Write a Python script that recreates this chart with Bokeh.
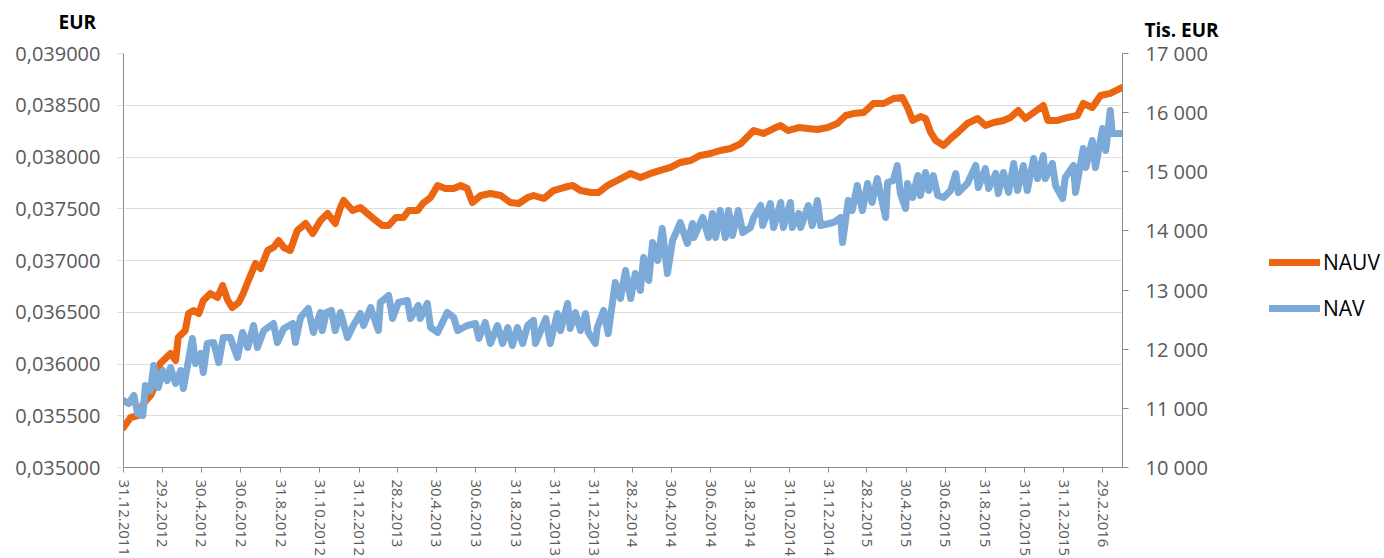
import pandas as pd
from bokeh.plotting import figure
from bokeh.layouts import row
from bokeh.models import (Range1d, LinearAxis, FixedTicker, CustomJSTickFormatter,
                          Label, Legend, LegendItem)
from bokeh.embed import file_html
from bokeh.resources import INLINE

# ---------------- data ----------------
start_date = "31.12.2011"          # day 0 of the day offsets below
end_date = "31.3.2016"

series_names = ["NAUV", "NAV"]

# NAUV (EUR, left axis): day offset from start_date, value
nauv_day = [0, 11, 23, 31, 42, 53, 57, 65, 73, 81, 85, 96, 101, 109, 117, 124, 135, 146, 154, 162,
            169, 179, 186, 194, 205, 213, 224, 233, 241, 249, 259, 270, 283, 294, 306, 317, 329, 337,
            342, 356, 368, 379, 392, 402, 412, 423, 435, 443, 457, 465, 477, 488, 500, 513, 524, 534,
            542, 555, 570, 586, 601, 614, 628, 637, 653, 668, 684, 698, 710, 726, 738, 752, 767, 788,
            803, 819, 834, 850, 865, 881, 896, 912, 927, 943, 959, 979, 994, 1010, 1021, 1032, 1049,
            1063, 1078, 1094, 1109, 1122, 1134, 1150, 1165, 1181, 1196, 1210, 1218, 1226, 1238, 1246,
            1254, 1262, 1274, 1285, 1296, 1311, 1327, 1339, 1352, 1367, 1378, 1390, 1401, 1414, 1429,
            1436, 1451, 1467, 1482, 1491, 1505, 1518, 1533, 1552]
nauv_val = [0.035386, 0.035483, 0.035502, 0.035618, 0.035696, 0.035841, 0.036005, 0.036053, 0.036101,
            0.036034, 0.036256, 0.036324, 0.036488, 0.036517, 0.036488, 0.036614, 0.036681, 0.036643,
            0.036758, 0.036614, 0.036546, 0.036594, 0.036681, 0.036807, 0.036971, 0.036923, 0.037097,
            0.037126, 0.037193, 0.037126, 0.037097, 0.037290, 0.037358, 0.037261, 0.037387, 0.037454,
            0.037358, 0.037512, 0.037580, 0.037483, 0.037512, 0.037454, 0.037387, 0.037338, 0.037338,
            0.037416, 0.037416, 0.037483, 0.037483, 0.037551, 0.037609, 0.037725, 0.037696, 0.037696,
            0.037725, 0.037696, 0.037560, 0.037628, 0.037647, 0.037628, 0.037560, 0.037551, 0.037609,
            0.037628, 0.037599, 0.037676, 0.037705, 0.037725, 0.037676, 0.037657, 0.037657, 0.037725,
            0.037773, 0.037841, 0.037802, 0.037841, 0.037870, 0.037899, 0.037947, 0.037966, 0.038015,
            0.038034, 0.038063, 0.038082, 0.038130, 0.038256, 0.038227, 0.038275, 0.038304, 0.038256,
            0.038285, 0.038275, 0.038266, 0.038285, 0.038324, 0.038401, 0.038420, 0.038430, 0.038517,
            0.038517, 0.038565, 0.038575, 0.038478, 0.038353, 0.038391, 0.038372, 0.038237, 0.038159,
            0.038111, 0.038179, 0.038237, 0.038324, 0.038372, 0.038304, 0.038333, 0.038353, 0.038382,
            0.038449, 0.038372, 0.038430, 0.038498, 0.038353, 0.038353, 0.038382, 0.038401, 0.038517,
            0.038478, 0.038594, 0.038614, 0.038672]

# NAV (Tis. EUR, right axis)
nav_day = [0, 8, 16, 22, 30, 34, 42, 47, 54, 61, 68, 73, 81, 89, 93, 99, 107, 112, 120, 124, 130, 140,
           148, 155, 166, 177, 185, 193, 202, 208, 218, 233, 239, 249, 263, 267, 275, 287, 295, 306,
           309, 315, 323, 329, 337, 348, 357, 368, 373, 384, 396, 399, 412, 418, 427, 441, 446, 458,
           461, 472, 477, 488, 503, 513, 519, 534, 547, 552, 562, 570, 581, 589, 597, 604, 612, 620,
           628, 637, 640, 656, 663, 674, 679, 690, 694, 702, 710, 718, 722, 733, 736, 746, 753, 764,
           772, 780, 788, 795, 803, 808, 816, 822, 830, 837, 845, 853, 865, 876, 884, 886, 900, 909,
           915, 920, 927, 935, 940, 946, 955, 962, 974, 979, 990, 993, 1005, 1010, 1021, 1025, 1036,
           1039, 1049, 1052, 1064, 1070, 1078, 1083, 1103, 1114, 1117, 1126, 1132, 1140, 1148, 1156,
           1163, 1171, 1184, 1187, 1196, 1202, 1207, 1215, 1218, 1226, 1234, 1238, 1246, 1251, 1258,
           1265, 1274, 1285, 1293, 1297, 1311, 1324, 1328, 1339, 1344, 1355, 1359, 1367, 1375, 1383,
           1389, 1398, 1404, 1414, 1420, 1429, 1432, 1443, 1448, 1459, 1463, 1476, 1479, 1491, 1495,
           1505, 1510, 1521, 1526, 1533, 1536, 1552]
nav_val = [11133, 11082, 11217, 10913, 10879, 11386, 11302, 11725, 11353, 11640, 11471, 11691, 11420,
           11640, 11336, 11691, 12181, 11758, 11928, 11606, 12097, 12114, 11775, 12198, 12198, 11860,
           12283, 12029, 12401, 12029, 12316, 12435, 12114, 12350, 12435, 12114, 12536, 12688, 12283,
           12621, 12316, 12621, 12655, 12316, 12621, 12198, 12401, 12604, 12401, 12705, 12316, 12790,
           12908, 12519, 12790, 12824, 12519, 12739, 12519, 12773, 12367, 12283, 12621, 12536, 12316,
           12401, 12435, 12181, 12452, 12097, 12401, 12097, 12367, 12063, 12367, 12097, 12401, 12486,
           12097, 12519, 12097, 12604, 12316, 12773, 12350, 12621, 12316, 12604, 12283, 12097, 12367,
           12655, 12266, 13128, 12857, 13331, 12857, 13280, 12993, 13551, 13162, 13804, 13500, 14041,
           13280, 13838, 14142, 13787, 14126, 13889, 14227, 13889, 14295, 13889, 14345, 13889, 14345,
           13923, 14345, 13973, 14058, 14227, 14430, 14092, 14464, 14058, 14481, 14058, 14481, 14058,
           14295, 14058, 14430, 14092, 14514, 14092, 14142, 14227, 13804, 14514, 14345, 14768, 14345,
           14802, 14481, 14886, 14227, 14819, 14853, 15106, 14633, 14379, 14802, 14565, 14937, 14599,
           14988, 14684, 14937, 14599, 14565, 14684, 14971, 14650, 14802, 15106, 14734, 15055, 14717,
           14971, 14633, 14988, 14650, 15140, 14684, 15106, 14684, 15225, 14886, 15275, 14886, 15140,
           14768, 14548, 14903, 15106, 14650, 15394, 15072, 15529, 15072, 15732, 15360, 16036, 15647,
           15647]

x_tick_labels = ["31.12.2011", "29.2.2012", "30.4.2012", "30.6.2012", "31.8.2012", "31.10.2012",
                 "31.12.2012", "28.2.2013", "30.4.2013", "30.6.2013", "31.8.2013", "31.10.2013",
                 "31.12.2013", "28.2.2014", "30.4.2014", "30.6.2014", "31.8.2014", "31.10.2014",
                 "31.12.2014", "28.2.2015", "30.4.2015", "30.6.2015", "31.8.2015", "31.10.2015",
                 "31.12.2015", "29.2.2016"]

left_ticks = [0.035, 0.0355, 0.036, 0.0365, 0.037, 0.0375, 0.038, 0.0385, 0.039]
left_tick_labels = ["0,035000", "0,035500", "0,036000", "0,036500", "0,037000", "0,037500",
                    "0,038000", "0,038500", "0,039000"]
right_ticks = [10000, 11000, 12000, 13000, 14000, 15000, 16000, 17000]
right_tick_labels = ["10 000", "11 000", "12 000", "13 000", "14 000", "15 000", "16 000", "17 000"]

left_title = "EUR"
right_title = "Tis. EUR"

# ---------------- helpers ----------------
t0 = pd.to_datetime(start_date, format="%d.%m.%Y")
x_ticks = [int((pd.to_datetime(s, format="%d.%m.%Y") - t0).days) for s in x_tick_labels]
x_end = int((pd.to_datetime(end_date, format="%d.%m.%Y") - t0).days)

lookup_code = """
let best = 0, bd = 1e300;
for (let k = 0; k < t.length; k++) { const d = Math.abs(t[k] - tick); if (d < bd) { bd = d; best = k; } }
return l[best];
"""

ORANGE = "#EC6611"
BLUE = "#7BA9D8"
GRID = "#DDDDDD"
AXIS = "#8C8C8C"
TXT = "#595959"
FONT = "Open Sans"
LW = 7

p = figure(frame_width=999, frame_height=414, output_backend="svg", toolbar_location=None,
           x_range=Range1d(0, x_end), y_range=Range1d(left_ticks[0], left_ticks[-1]),
           min_border_left=123, min_border_right=118, min_border_top=53, min_border_bottom=91)
p.outline_line_color = None
p.background_fill_color = "white"
p.extra_y_ranges = {"nav": Range1d(right_ticks[0], right_ticks[-1])}

# grid
p.xgrid.visible = False
p.ygrid.grid_line_color = GRID
p.ygrid.grid_line_width = 1

# left axis
la = p.yaxis[0]
la.ticker = FixedTicker(ticks=left_ticks)
la.formatter = CustomJSTickFormatter(args=dict(t=left_ticks, l=left_tick_labels), code=lookup_code)
la.axis_line_color = AXIS
la.major_tick_line_color = GRID
la.major_tick_out = 6
la.major_tick_in = 0
la.minor_tick_line_color = None
la.major_label_standoff = 17
la.major_label_text_font = FONT
la.major_label_text_font_size = "20px"
la.major_label_text_color = TXT

# bottom axis
ba = p.xaxis[0]
ba.ticker = FixedTicker(ticks=x_ticks)
ba.formatter = CustomJSTickFormatter(args=dict(t=x_ticks, l=x_tick_labels), code=lookup_code)
ba.axis_line_color = AXIS
ba.major_tick_line_color = AXIS
ba.major_tick_out = 5
ba.major_tick_in = 0
ba.minor_tick_line_color = None
ba.major_label_orientation = "vertical"
ba.major_label_standoff = 7
ba.major_label_text_font = FONT
ba.major_label_text_font_size = "15px"
ba.major_label_text_color = TXT

# right axis
ra = LinearAxis(y_range_name="nav")
ra.ticker = FixedTicker(ticks=right_ticks)
ra.formatter = CustomJSTickFormatter(args=dict(t=right_ticks, l=right_tick_labels), code=lookup_code)
ra.axis_line_color = AXIS
ra.major_tick_line_color = AXIS
ra.major_tick_out = 6
ra.major_tick_in = 0
ra.minor_tick_line_color = None
ra.major_label_standoff = 17
ra.major_label_text_font = FONT
ra.major_label_text_font_size = "20px"
ra.major_label_text_color = TXT
p.add_layout(ra, "right")

# lines
p.line(nauv_day, nauv_val, line_color=ORANGE, line_width=LW, line_join="round", line_cap="round")
p.line(nav_day, nav_val, line_color=BLUE, line_width=LW, line_join="round", line_cap="round",
       y_range_name="nav")

# axis titles (in the top side panel so that they are not clipped to the frame)
p.add_layout(Label(x=-65, y=32, x_units="screen", y_units="screen", text=left_title,
                   text_font=FONT, text_font_style="bold", text_font_size="19px",
                   text_color="black", text_baseline="alphabetic"), "above")
p.add_layout(Label(x=1021, y=-2, x_units="screen", y_units="screen", text=right_title,
                   text_font=FONT, text_font_style="bold", text_font_size="19px",
                   text_color="black", text_baseline="alphabetic"), "above")

# legend, in its own small panel to the right of the chart
lg = figure(width=144, height=558, output_backend="svg", toolbar_location=None,
            x_range=Range1d(0, 1), y_range=Range1d(0, 1),
            min_border_left=0, min_border_right=0, min_border_top=0, min_border_bottom=0)
lg.axis.visible = False
lg.grid.visible = False
lg.outline_line_color = None
# key renderers: styled like the chart lines, their points lie outside this panel's view
k1 = lg.line([2, 3], [2, 3], line_color=ORANGE, line_width=LW, line_cap="round")
k2 = lg.line([2, 3], [2, 3], line_color=BLUE, line_width=LW, line_cap="round")
legend = Legend(items=[LegendItem(label=series_names[0], renderers=[k1]),
                       LegendItem(label=series_names[1], renderers=[k2])],
                location=(29, 145), orientation="vertical",
                glyph_width=51, glyph_height=28, label_height=28, spacing=18,
                label_standoff=3, padding=0, margin=0,
                border_line_color=None, background_fill_alpha=0,
                label_text_font=FONT, label_text_font_size="21px", label_text_color="black")
lg.add_layout(legend, "center")

open("out.html", "w").write(file_html(row(p, lg), INLINE))
